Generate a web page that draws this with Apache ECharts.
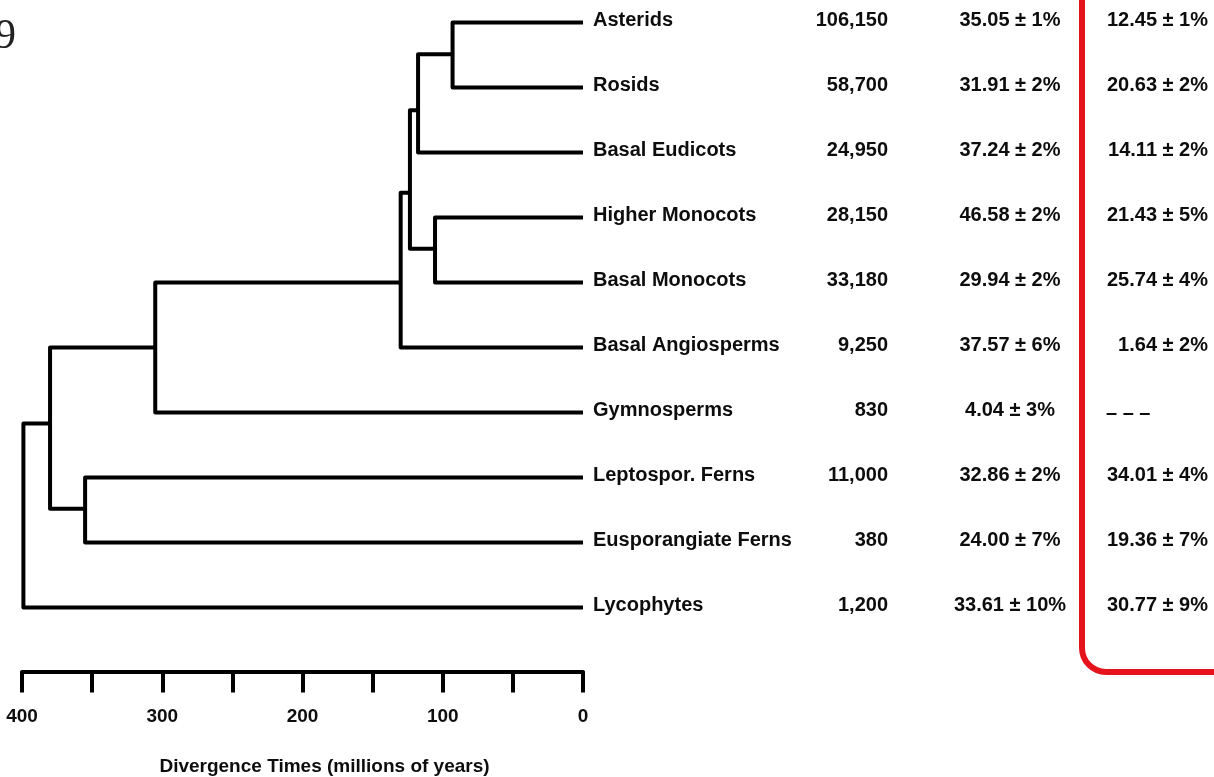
<!DOCTYPE html>
<html>
<head>
<meta charset="utf-8">
<script src="https://cdn.jsdelivr.net/npm/echarts@6/dist/echarts.min.js"></script>
<style>
  html, body { margin: 0; padding: 0; background: #fff; }
  #chart { width: 1214px; height: 777px; }
</style>
</head>
<body>
<div id="chart"></div>
<script>
// ---- data ----
const leafNames = ['Asterids', 'Rosids', 'Basal Eudicots', 'Higher Monocots', 'Basal Monocots',
  'Basal Angiosperms', 'Gymnosperms', 'Leptospor. Ferns', 'Eusporangiate Ferns', 'Lycophytes'];
const speciesCounts = ['106,150', '58,700', '24,950', '28,150', '33,180', '9,250', '830', '11,000', '380', '1,200'];
const col3Values = ['35.05 ± 1%', '31.91 ± 2%', '37.24 ± 2%', '46.58 ± 2%', '29.94 ± 2%',
  '37.57 ± 6%', '4.04 ± 3%', '32.86 ± 2%', '24.00 ± 7%', '33.61 ± 10%'];
const missingMark = '– – –';
const col4Values = ['12.45 ± 1%', '20.63 ± 2%', '14.11 ± 2%', '21.43 ± 5%', '25.74 ± 4%',
  '1.64 ± 2%', missingMark, '34.01 ± 4%', '19.36 ± 7%', '30.77 ± 9%'];

// internal nodes: divergence time (My), vertical position (leaf units), children
const nodeNames = ['AR', 'E', 'M', 'EM', 'A', 'S', 'F', 'T', 'R'];
const nodeTimes = [93, 117.6, 105.5, 123.4, 130, 305, 355, 380, 399];
const nodePos = [0.49, 1.35, 3.48, 2.62, 4.0, 5.0, 7.48, 6.17, 7.5];
const nodeChildren = [
  ['Asterids', 'Rosids'],
  ['AR', 'Basal Eudicots'],
  ['Higher Monocots', 'Basal Monocots'],
  ['E', 'M'],
  ['EM', 'Basal Angiosperms'],
  ['A', 'Gymnosperms'],
  ['Leptospor. Ferns', 'Eusporangiate Ferns'],
  ['S', 'F'],
  ['T', 'Lycophytes']
];
const tickLabels = [0, 100, 200, 300, 400];
const axisTitle = 'Divergence Times (millions of years)';

// ---- helpers ----
function locate(name) {
  const li = leafNames.indexOf(name);
  if (li >= 0) return [0, li];
  const ni = nodeNames.indexOf(name);
  return [nodeTimes[ni], nodePos[ni]];
}

const FONT = '"Liberation Sans", Arial, Helvetica, sans-serif';
const INK = '#0d0d0d';

const chart = echarts.init(document.getElementById('chart'));
chart.setOption({
  animation: false,
  backgroundColor: '#fff',
  grid: { left: 22, right: 631, top: 22.5, bottom: 169.5, outerBoundsMode: 'none', containLabel: false },
  xAxis: {
    type: 'value', min: 0, max: 400, interval: 50, inverse: true, offset: 64, position: 'bottom',
    axisLine: { show: true, onZero: false, lineStyle: { color: '#000', width: 4, cap: 'round' } },
    axisTick: { show: true, inside: false, length: 21, lineStyle: { color: '#000', width: 4 } },
    axisLabel: {
      show: true, showMinLabel: true, showMaxLabel: true, margin: 36,
      formatter: v => tickLabels.includes(v) ? String(v) : '',
      color: INK, fontFamily: FONT, fontWeight: 'bold', fontSize: 19
    },
    splitLine: { show: false },
    name: axisTitle, nameLocation: 'middle', nameGap: 86,
    nameTextStyle: { color: INK, fontFamily: FONT, fontWeight: 'bold', fontSize: 19, padding: [0, 0, 0, 44] }
  },
  yAxis: { type: 'value', min: 0, max: 9, inverse: true, show: false },
  graphic: [
    { type: 'text', left: -5, top: 16, style: { text: '9', font: '42px "Liberation Serif", "Times New Roman", serif', fill: '#222' } },
    { type: 'rect', shape: { x: 1082, y: -40, width: 220, height: 712, r: 24 },
      style: { fill: 'none', stroke: '#e5131c', lineWidth: 6 } }
  ],
  series: [
    {
      type: 'custom', clip: false, silent: true,
      data: nodeNames.map((n, i) => [nodeTimes[i], nodePos[i]]),
      renderItem: function (params, api) {
        const i = params.dataIndex;
        const c1 = locate(nodeChildren[i][0]);
        const c2 = locate(nodeChildren[i][1]);
        const t = nodeTimes[i];
        const pts = [
          api.coord([c1[0], c1[1]]),
          api.coord([t, c1[1]]),
          api.coord([t, c2[1]]),
          api.coord([c2[0], c2[1]])
        ];
        return {
          type: 'polyline',
          shape: { points: pts },
          style: { stroke: '#000', lineWidth: 4, fill: null, lineJoin: 'round', lineCap: 'butt' }
        };
      }
    },
    {
      type: 'custom', clip: false, silent: true,
      data: leafNames.map((n, i) => [0, i]),
      renderItem: function (params, api) {
        const i = params.dataIndex;
        const y = api.coord([0, i])[1] - 2;
        const base = { fill: INK, fontFamily: FONT, fontWeight: 'bold', fontSize: 20, verticalAlign: 'middle' };
        const c4 = col4Values[i];
        return {
          type: 'group',
          children: [
            { type: 'text', style: Object.assign({}, base, { text: leafNames[i], x: 593, y: y, align: 'left' }) },
            { type: 'text', style: Object.assign({}, base, { text: speciesCounts[i], x: 888, y: y, align: 'right' }) },
            { type: 'text', style: Object.assign({}, base, { text: col3Values[i], x: 1010, y: y, align: 'center' }) },
            { type: 'text', style: Object.assign({}, base, c4 === missingMark
                ? { text: c4, x: 1106, y: y + 3, align: 'left' }
                : { text: c4, x: 1208, y: y, align: 'right' }) }
          ]
        };
      }
    }
  ]
});
</script>
</body>
</html>
